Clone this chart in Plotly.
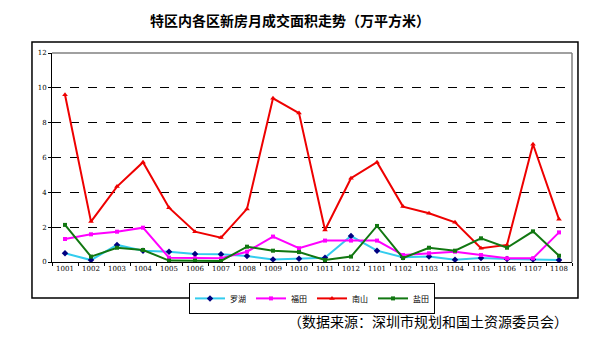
import plotly.graph_objects as go

months = ["1001", "1002", "1003", "1004", "1005", "1006", "1007", "1008", "1009", "1010",
          "1011", "1012", "1101", "1102", "1103", "1104", "1105", "1106", "1107", "1108"]
luohu = [0.50, 0.11, 0.98, 0.65, 0.59, 0.46, 0.44, 0.34, 0.15, 0.19,
         0.25, 1.49, 0.65, 0.27, 0.31, 0.13, 0.23, 0.17, 0.15, 0.11]
futian = [1.32, 1.59, 1.74, 1.97, 0.25, 0.21, 0.21, 0.59, 1.46, 0.79,
          1.23, 1.23, 1.23, 0.40, 0.50, 0.59, 0.40, 0.21, 0.21, 1.70]
nanshan = [9.60, 2.32, 4.33, 5.73, 3.12, 1.74, 1.40, 3.05, 9.40, 8.55,
           1.84, 4.81, 5.73, 3.18, 2.80, 2.28, 0.79, 0.98, 6.76, 2.45]
yantian = [2.13, 0.31, 0.82, 0.69, 0.08, 0.08, 0.06, 0.88, 0.65, 0.57,
           0.11, 0.31, 2.07, 0.23, 0.82, 0.65, 1.36, 0.82, 1.76, 0.36]
y_ticks = [0, 2, 4, 6, 8, 10, 12]

title = "特区内各区新房月成交面积走势（万平方米）"
source = "（数据来源：深圳市规划和国土资源委员会）"

CJK = "Noto Sans CJK SC"

fig = go.Figure()
series = [
    ("罗湖", luohu, "#33CCEE", "#000080", "diamond", 5),
    ("福田", futian, "#FF00FF", "#FF00FF", "square", 4),
    ("南山", nanshan, "#EE0000", "#EE0000", "triangle-up", 5),
    ("盐田", yantian, "#117711", "#117711", "square", 4),
]
for name, vals, lc, mc, sym, ms in series:
    fig.add_trace(go.Scatter(
        x=months, y=vals, name=name, mode="lines+markers",
        line=dict(color=lc, width=2),
        marker=dict(color=mc, symbol=sym, size=ms, line=dict(width=0)),
    ))

fig.update_layout(
    width=607, height=338,
    margin=dict(l=52, r=35, t=53, b=76),
    paper_bgcolor="white", plot_bgcolor="white",
    font=dict(family=CJK, size=8, color="black"),
    showlegend=True,
    legend=dict(
        orientation="h", x=0.5, xanchor="center", y=-0.1, yanchor="top",
        bordercolor="black", borderwidth=1, bgcolor="white",
        font=dict(family=CJK, size=8), itemwidth=30,
        tracegroupgap=0,
    ),
    xaxis=dict(
        type="category", showgrid=False, showline=True, linecolor="black", linewidth=1,
        ticks="outside", ticklen=3, tickcolor="black", tickson="boundaries",
        tickangle=0,
        tickfont=dict(family="DejaVu Serif", size=7), mirror=False,
        range=[-0.5, 19.5],
    ),
    yaxis=dict(
        range=[0, 12], tickvals=y_ticks, showgrid=True, gridcolor="black",
        griddash="dash", gridwidth=1, showline=True, linecolor="black", linewidth=1,
        ticks="outside", ticklen=3, tickcolor="black", zeroline=False,
        tickfont=dict(family="DejaVu Serif", size=7),
    ),
)

# grey top/right border of plot area
fig.add_shape(type="line", xref="paper", yref="paper", x0=0, x1=1, y0=1, y1=1,
              line=dict(color="#808080", width=1.5))
fig.add_shape(type="line", xref="paper", yref="paper", x0=1, x1=1, y0=0, y1=1,
              line=dict(color="#808080", width=1.5))
# outer chart border
fig.add_shape(type="rect", xref="paper", yref="paper",
              x0=-0.0385, x1=1.0115, y0=-0.172, y1=1.0526,
              line=dict(color="black", width=1.5), fillcolor="rgba(0,0,0,0)", layer="above")

fig.add_annotation(text="<b>" + title + "</b>", xref="paper", yref="paper",
                   x=(290 - 52) / 520, y=(262 - 20) / 209, xanchor="center", yanchor="middle",
                   showarrow=False, font=dict(family=CJK, size=14, color="black"))
fig.add_annotation(text=source, xref="paper", yref="paper",
                   x=(286 - 52) / 520, y=(262 - 321) / 209, xanchor="left", yanchor="middle",
                   showarrow=False, font=dict(family=CJK, size=14, color="black"))

fig.write_html("out.html")
